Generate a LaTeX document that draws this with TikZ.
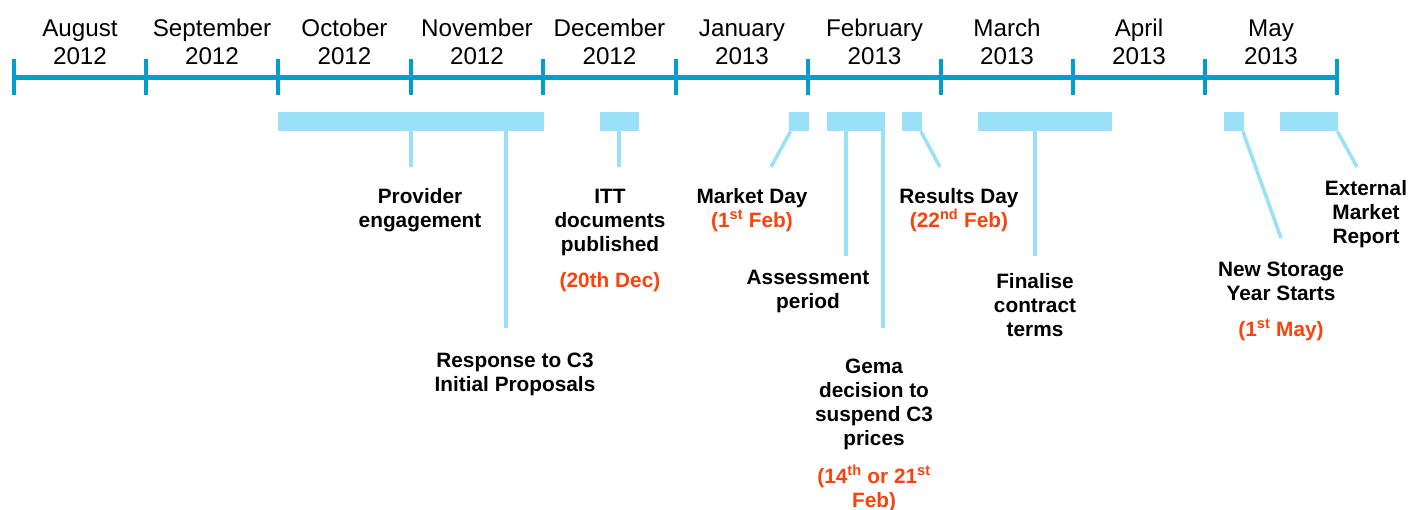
\documentclass[tikz,border=0pt]{standalone}
\usepackage{fontspec}
\setmainfont{Liberation Sans}
\definecolor{tl}{RGB}{0,159,206}
\definecolor{barc}{RGB}{153,224,248}
\definecolor{hl}{RGB}{252,66,12}
\begin{document}
\begin{tikzpicture}[x=1pt,y=-1pt,
 month/.style={font=\fontsize{24.2}{28}\selectfont, align=center, anchor=base, inner sep=0},
 lbl/.style={font=\fontsize{20.8}{24}\selectfont\bfseries, align=center, anchor=base, inner sep=0},
 redlbl/.style={lbl, text=hl},
 barbox/.style={fill=barc, draw=none, inner sep=0, minimum height=19pt, anchor=north west},
 conn/.style={draw=barc, line width=3.5pt},
 tickline/.style={draw=tl, line width=4.5pt},
]
\useasboundingbox (0,0) rectangle (1409,509);
% timeline
\foreach \i/\x in {0/14,1/146,2/278,3/411,4/543,5/676,6/808,7/941,8/1073,9/1205,10/1337}
  \coordinate (t\i) at (\x,77);
\draw[tl, line width=5pt] (t0) -- (t10);
\foreach \i in {0,...,10}
  \draw[tickline] ([yshift=18pt]t\i) -- ([yshift=-18pt]t\i);
% months (anchor = baseline of last line)
\node[month] (m0) at (80,64.7) {August\\2012};
\node[month] (m1) at (212,64.7) {September\\2012};
\node[month] (m2) at (344.5,64.7) {October\\2012};
\node[month] (m3) at (477,64.7) {November\\2012};
\node[month] (m4) at (609.5,64.7) {December\\2012};
\node[month] (m5) at (742,64.7) {January\\2013};
\node[month] (m6) at (874.5,64.7) {February\\2013};
\node[month] (m7) at (1007,64.7) {March\\2013};
\node[month] (m8) at (1139,64.7) {April\\2013};
\node[month] (m9) at (1271,64.7) {May\\2013};
% bars
\node[barbox, minimum width=266pt] (b1) at (278,112) {};
\node[barbox, minimum width=39pt] (b2) at (600,112) {};
\node[barbox, minimum width=20pt] (b3) at (789,112) {};
\node[barbox, minimum width=58pt] (b4) at (827,112) {};
\node[barbox, minimum width=20pt] (b5) at (902,112) {};
\node[barbox, minimum width=134pt] (b6) at (978,112) {};
\node[barbox, minimum width=20pt] (b7) at (1224,112) {};
\node[barbox, minimum width=58pt] (b8) at (1280,112) {};
% connector ends
\coordinate (e1) at (411,167);
\coordinate (e2) at (506,328);
\coordinate (e3) at (619,167);
\coordinate (e4) at (771,167);
\coordinate (e5) at (846,256);
\coordinate (e6) at (883,328);
\coordinate (e7) at (940,167);
\coordinate (e8) at (1035,256);
\coordinate (e9) at (1281,238);
\coordinate (e10) at (1357,167);
\draw[conn] (b1.south -| e1) -- (e1);
\draw[conn] (b1.south -| e2) -- (e2);
\draw[conn] (b2.south -| e3) -- (e3);
\draw[conn] ([xshift=1.5pt]b3.south west) -- (e4);
\draw[conn] (b4.south -| e5) -- (e5);
\draw[conn] (b4.south -| e6) -- (e6);
\draw[conn] ([xshift=-1.5pt]b5.south east) -- (e7);
\draw[conn] (b6.south -| e8) -- (e8);
\draw[conn] ([xshift=-1.5pt]b7.south east) -- (e9);
\draw[conn] ([xshift=-1pt]b8.south east) -- (e10);
% labels (anchor = baseline of last line)
\node[lbl] (l1) at (420,227) {Provider\\engagement};
\node[lbl] (l2) at (515,391) {Response to C3\\Initial Proposals};
\node[lbl] (l3) at (610,251) {ITT\\documents\\published};
\node[redlbl] (r3) at (610,287) {(20th Dec)};
\node[lbl] (l4) at (752,203) {Market Day};
\node[redlbl] (r4) at (752,227) {(1\textsuperscript{st} Feb)};
\node[lbl] (l5) at (808,308) {Assessment\\period};
\node[lbl] (l6) at (874,445) {Gema\\decision to\\suspend C3\\prices};
\node[redlbl] (r6) at (874,507) {(14\textsuperscript{th} or 21\textsuperscript{st}\\Feb)};
\node[lbl] (l7) at (959,203) {Results Day};
\node[redlbl] (r7) at (959,227) {(22\textsuperscript{nd} Feb)};
\node[lbl] (l8) at (1035,336) {Finalise\\contract\\terms};
\node[lbl] (l9) at (1281,300) {New Storage\\Year Starts};
\node[redlbl] (r9) at (1281,336) {(1\textsuperscript{st} May)};
\node[lbl] (l10) at (1366,243) {External\\Market\\Report};
\end{tikzpicture}
\end{document}
